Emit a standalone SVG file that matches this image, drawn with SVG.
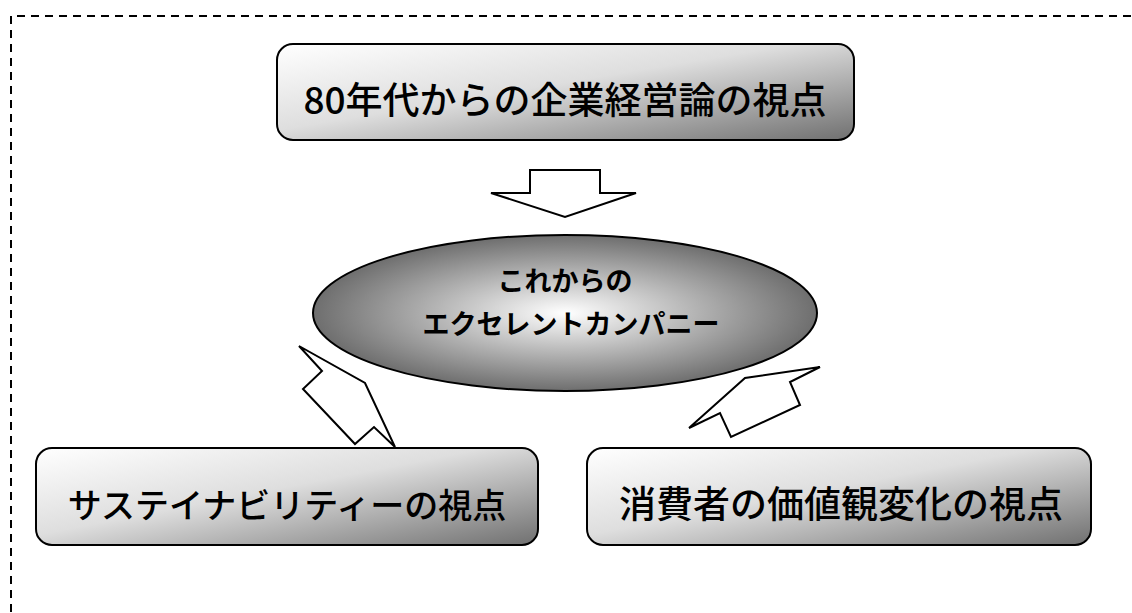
<svg xmlns="http://www.w3.org/2000/svg" width="1132" height="613" viewBox="0 0 1132 613">
<defs>
<linearGradient id="boxGrad" x1="0" y1="0" x2="1" y2="1">
<stop offset="0" stop-color="#ffffff"/>
<stop offset="0.45" stop-color="#dedede"/>
<stop offset="1" stop-color="#707070"/>
</linearGradient>
<radialGradient id="ellGrad" cx="0.5" cy="0.5" r="0.5">
<stop offset="0" stop-color="#ffffff"/>
<stop offset="1" stop-color="#6e6e6e"/>
</radialGradient>
<style>
.box{fill:url(#boxGrad);stroke:#000;stroke-width:2}
.arrow{fill:#fff;stroke:#000;stroke-width:2;stroke-linejoin:miter}
.t{font-family:"Noto Sans CJK JP","Noto Sans",sans-serif;font-weight:500;fill:#000;text-anchor:middle}
.e{font-weight:700}
</style>
</defs>
<rect width="1132" height="613" fill="#fff"/>
<path d="M11,640 L11,16 L1140,16" fill="none" stroke="#000" stroke-width="2" stroke-dasharray="8 6"/>
<g id="connectors">
<polygon class="arrow" points="530,170 600,170 600,193 636,193 565,217 491,193 530,193"/>
<polygon class="arrow" points="299,346 365,383 395,447 374,427 355,444 303,389 322,371"/>
<polygon class="arrow" points="689,428 720,413 731,437 800,405 790,382 820,367 745,378"/>
</g>
<g id="node-center">
<ellipse cx="565" cy="313" rx="252" ry="78" fill="url(#ellGrad)" stroke="#000" stroke-width="2"/>
<text class="t e" x="565" y="291" font-size="27">これからの</text>
<text class="t e" x="571" y="334" font-size="27">エクセレントカンパニー</text>
</g>
<g id="node-top">
<rect class="box" x="277" y="44" width="577" height="96" rx="16"/>
<text class="t" x="565" y="114" font-size="37">80年代からの企業経営論の視点</text>
</g>
<g id="node-left">
<rect class="box" x="36" y="448" width="502" height="97" rx="16"/>
<text class="t" x="287" y="518" font-size="34">サステイナビリティーの視点</text>
</g>
<g id="node-right">
<rect class="box" x="587" y="448" width="504" height="97" rx="16"/>
<text class="t" x="841" y="518" font-size="37">消費者の価値観変化の視点</text>
</g>
</svg>
